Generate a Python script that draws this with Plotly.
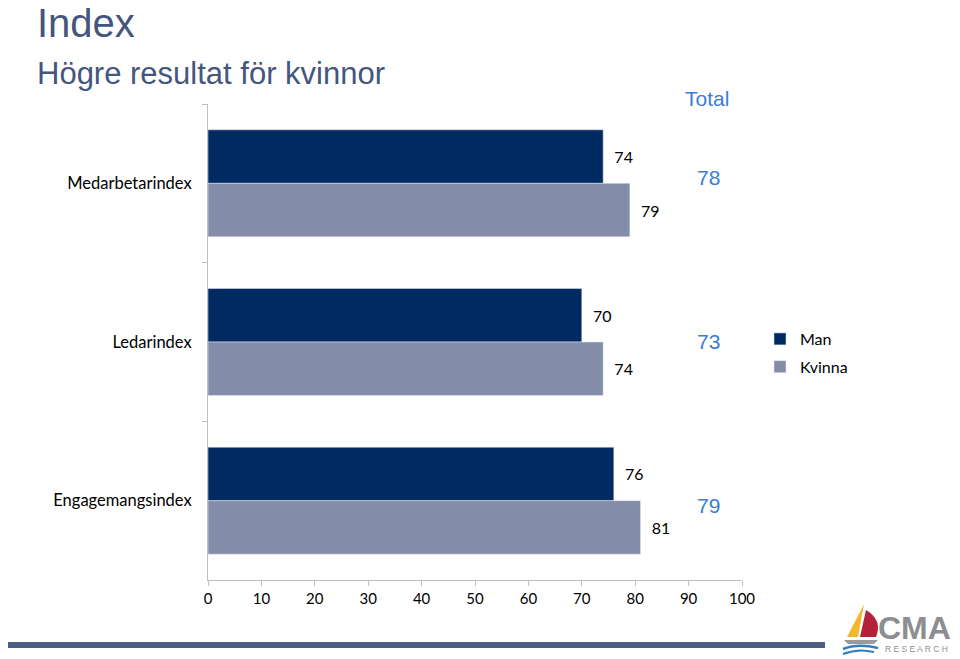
import plotly.graph_objects as go

categories = ["Medarbetarindex", "Ledarindex", "Engagemangsindex"]
man = [74, 70, 76]
kvinna = [79, 74, 81]
total = [78, 73, 79]
x_ticks = [0, 10, 20, 30, 40, 50, 60, 70, 80, 90, 100]

OFF = 8  # page body margin
W, H = 960 - OFF, 659 - OFF
L, T = 208 - OFF, 104 - OFF
R = W - (742 - OFF)
B = H - (580 - OFF)
PW, PH = W - L - R, H - T - B


def px(x):
    """page pixel x -> paper coordinate"""
    return (x - OFF - L) / PW


def py(y):
    """page pixel y -> paper coordinate"""
    return (H - B - (y - OFF)) / PH


NAVY = "#002a62"
GREY = "#848da8"
TBLUE = "#3b7dd6"
TITLE = "#44567e"
BODY = "Lato, Carlito, Calibri, sans-serif"
ARIAL = "Liberation Sans, Arial, sans-serif"

fig = go.Figure()
fig.add_bar(y=categories, x=man, orientation="h", name="Man", marker_color=NAVY,
            text=[f"  {v}" for v in man], textposition="outside", cliponaxis=False,
            textfont=dict(family=BODY, size=16, color="#000000"), legendgroup="a")
fig.add_bar(y=categories, x=kvinna, orientation="h", name="Kvinna", marker_color=GREY,
            text=[f"  {v}" for v in kvinna], textposition="outside", cliponaxis=False,
            textfont=dict(family=BODY, size=16, color="#000000"), legendgroup="b")

annotations = [
    dict(text="Index", xref="paper", yref="paper", x=px(35), y=py(23), xanchor="left",
         yanchor="middle", showarrow=False, font=dict(family=ARIAL, size=40, color=TITLE)),
    dict(text="Högre resultat för kvinnor", xref="paper", yref="paper", x=px(35), y=py(73),
         xanchor="left", yanchor="middle", showarrow=False,
         font=dict(family=ARIAL, size=31, color=TITLE)),
    dict(text="Total", xref="paper", yref="paper", x=px(707), y=py(98), xanchor="center",
         yanchor="middle", showarrow=False, font=dict(family=ARIAL, size=21, color=TBLUE)),
    dict(text="<b>CMA</b>", xref="paper", yref="paper", x=px(914), y=py(628), xanchor="center",
         yanchor="middle", showarrow=False, font=dict(family=ARIAL, size=32, color="#8c8e91")),
    dict(text="R E S E A R C H", xref="paper", yref="paper", x=px(916), y=py(649),
         xanchor="center", yanchor="middle", showarrow=False,
         font=dict(family=ARIAL, size=8.5, color="#8c8e91")),
]
for c, t, shift in zip(categories, total, [6, 1, -5]):
    annotations.append(dict(text=str(t), xref="paper", yref="y", x=px(708), y=c,
                            yshift=shift, xanchor="center", yanchor="middle",
                            showarrow=False, font=dict(family=ARIAL, size=21, color=TBLUE)))

shapes = [
    dict(type="rect", xref="paper", yref="paper", x0=px(0), x1=px(825), y0=py(642), y1=py(648),
         fillcolor="#4b5d82", line_width=0, layer="above"),
    # logo: sails and waves
    dict(type="path", xref="paper", yref="paper",
         path=f"M {px(847)} {py(637)} L {px(864)} {py(604)} L {px(858)} {py(637)} Z",
         fillcolor="#f2b730", line_width=0),
    dict(type="path", xref="paper", yref="paper",
         path=f"M {px(860)} {py(637)} L {px(866)} {py(610)} Q {px(883)} {py(620)} {px(876)} {py(637)} Z",
         fillcolor="#b5213b", line_width=0),
    dict(type="path", xref="paper", yref="paper",
         path=f"M {px(844)} {py(640)} L {px(878)} {py(640)} L {px(874)} {py(644)} L {px(848)} {py(644)} Z",
         fillcolor="#9a9a9a", line_width=0),
    dict(type="path", xref="paper", yref="paper",
         path=f"M {px(843)} {py(649)} Q {px(858)} {py(643)} {px(878)} {py(648)}",
         line=dict(color="#2f7fc1", width=2.5)),
    dict(type="path", xref="paper", yref="paper",
         path=f"M {px(843)} {py(654)} Q {px(858)} {py(648)} {px(874)} {py(652)}",
         line=dict(color="#2f7fc1", width=2)),
]

fig.update_layout(
    width=W, height=H,
    margin=dict(l=L, r=R, t=T, b=B, autoexpand=False),
    paper_bgcolor="white", plot_bgcolor="white",
    barmode="group", bargap=0.326, bargroupgap=0,
    showlegend=True,
    legend=dict(x=px(760), y=py(353), xanchor="left", yanchor="middle",
                font=dict(family=BODY, size=16, color="#000000"),
                tracegroupgap=4, bgcolor="rgba(0,0,0,0)", itemwidth=30),
    annotations=annotations,
    shapes=shapes,
    xaxis=dict(range=[0, 100], tickvals=x_ticks, showgrid=False, zeroline=False,
               showline=True, linecolor="#bfbfbf", linewidth=1, ticks="outside",
               ticklen=5, tickcolor="#bfbfbf",
               tickfont=dict(family=BODY, size=15, color="#000000")),
    yaxis=dict(categoryorder="array", categoryarray=categories, autorange="reversed",
               showgrid=False, zeroline=False, showline=True, linecolor="#bfbfbf",
               linewidth=1, ticks="outside", ticklen=5, tickcolor="#bfbfbf",
               tickson="boundaries", ticklabelstandoff=12,
               tickfont=dict(family=BODY, size=16.5, color="#000000")),
)

fig.write_html("out.html")
